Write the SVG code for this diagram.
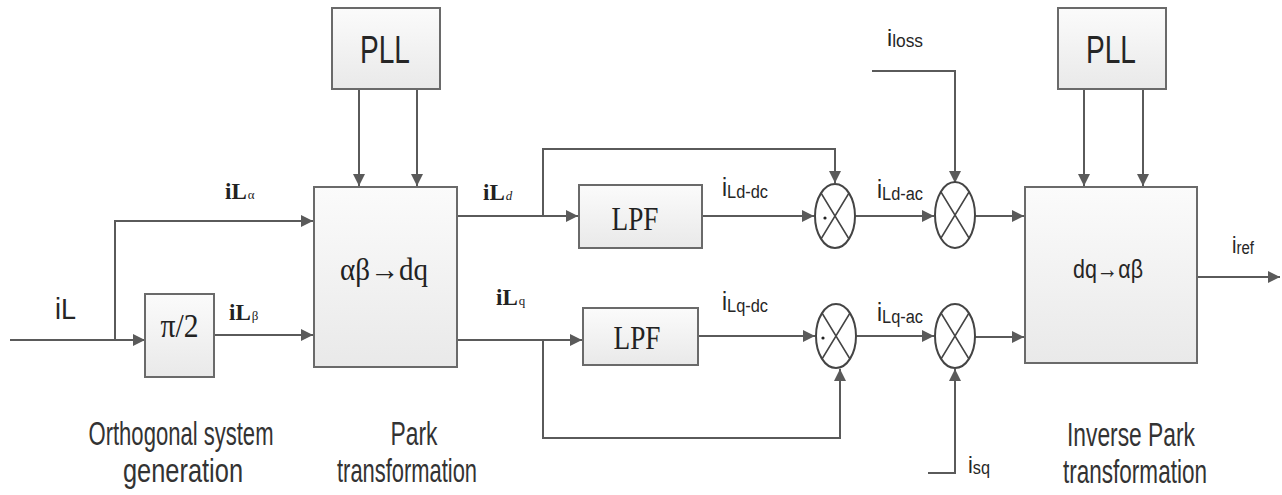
<svg xmlns="http://www.w3.org/2000/svg" width="1282" height="495" viewBox="0 0 1282 495">
<style>
.box{fill:url(#g);stroke:#6a6a6a;stroke-width:2}
.ln{fill:none;stroke:#5a5a5a;stroke-width:2}
.arr{marker-end:url(#ah)}
.mul{fill:#fff;stroke:#444;stroke-width:2}
.x{stroke:#444;stroke-width:1.5}
.sans{font-family:"Liberation Sans",Arial,sans-serif;fill:#262626}
.serif{font-family:"Liberation Serif","Times New Roman",serif;fill:#222}
.cap{font-family:"Liberation Sans",Arial,sans-serif;fill:#333;font-size:34px;text-anchor:middle}
</style>
<defs>
<linearGradient id="g" x1="0" y1="0" x2="0" y2="1">
<stop offset="0" stop-color="#fbfbfb"/>
<stop offset="1" stop-color="#e9e9e9"/>
</linearGradient>
<marker id="ah" markerUnits="userSpaceOnUse" markerWidth="14" markerHeight="12" refX="12" refY="6" orient="auto">
<path d="M0,0 L12,6 L0,12 Z" fill="#5a5a5a"/>
</marker>
</defs>
<rect width="1282" height="495" fill="#fff"/>

<g id="connectors">
<path class="ln arr" d="M10,340 H145"/>
<path class="ln arr" d="M115,340 V221 H313"/>
<path class="ln arr" d="M214,335 H313"/>
<path class="ln arr" d="M359,89 V186"/>
<path class="ln arr" d="M417,89 V186"/>
<path class="ln arr" d="M457,216 H578"/>
<path class="ln arr" d="M543,216 V149 H835 V183"/>
<path class="ln arr" d="M702,216 H814"/>
<path class="ln arr" d="M457,340 H582"/>
<path class="ln arr" d="M543,340 V438 H840 V369"/>
<path class="ln arr" d="M698,336 H815"/>
<path class="ln arr" d="M855,216 H934"/>
<path class="ln arr" d="M975,216 H1024"/>
<path class="ln arr" d="M872,71 H955 V183"/>
<path class="ln arr" d="M856,336 H934"/>
<path class="ln arr" d="M975,337 H1024"/>
<path class="ln arr" d="M928,473 H955 V369"/>
<path class="ln arr" d="M1084,89 V186"/>
<path class="ln arr" d="M1143,89 V186"/>
<path class="ln arr" d="M1197,277 H1280"/>
</g>

<g id="pi2">
<rect class="box" x="145" y="294" width="69" height="83"/>
<text class="serif" x="179.5" y="337" font-size="34" text-anchor="middle" textLength="38" lengthAdjust="spacingAndGlyphs">π/2</text>
</g>
<g id="pll1">
<rect class="box" x="332" y="8" width="108" height="81"/>
<text class="sans" x="385" y="63" font-size="38" text-anchor="middle" textLength="50" lengthAdjust="spacingAndGlyphs">PLL</text>
</g>
<g id="park">
<rect class="box" x="314" y="187" width="143" height="180"/>
<text class="serif" x="384" y="280" font-size="32" text-anchor="middle" textLength="88" lengthAdjust="spacingAndGlyphs">αβ→dq</text>
</g>
<g id="lpf1">
<rect class="box" x="579" y="185" width="123" height="63"/>
<text class="serif" x="635" y="230" font-size="33" text-anchor="middle" textLength="47" lengthAdjust="spacingAndGlyphs">LPF</text>
</g>
<g id="lpf2">
<rect class="box" x="583" y="308" width="115" height="57"/>
<text class="serif" x="637" y="349" font-size="33" text-anchor="middle" textLength="47" lengthAdjust="spacingAndGlyphs">LPF</text>
</g>
<g id="mul1">
<ellipse class="mul" cx="835" cy="216" rx="20" ry="32"/>
<path class="x" d="M821,193 L849,239 M849,193 L821,239"/>
<circle cx="825" cy="218" r="1.6" fill="#222"/>
</g>
<g id="mul2">
<ellipse class="mul" cx="836" cy="336" rx="20" ry="32"/>
<path class="x" d="M822,313 L850,359 M850,313 L822,359"/>
<circle cx="823" cy="338" r="1.6" fill="#222"/>
</g>
<g id="mul3">
<ellipse class="mul" cx="955" cy="215" rx="20" ry="33"/>
<path class="x" d="M941,192 L969,238 M969,192 L941,238"/>
</g>
<g id="mul4">
<ellipse class="mul" cx="955" cy="336" rx="20" ry="32"/>
<path class="x" d="M941,313 L969,359 M969,313 L941,359"/>
</g>
<g id="pll2">
<rect class="box" x="1058" y="8" width="108" height="81"/>
<text class="sans" x="1111" y="63" font-size="38" text-anchor="middle" textLength="50" lengthAdjust="spacingAndGlyphs">PLL</text>
</g>
<g id="invpark">
<rect class="box" x="1025" y="187" width="172" height="176"/>
<text class="sans" x="1108" y="278" font-size="26" text-anchor="middle" textLength="70" lengthAdjust="spacingAndGlyphs">dq→αβ</text>
</g>

<g id="labels">
<text class="sans" x="55" y="319" font-size="30" textLength="21" lengthAdjust="spacingAndGlyphs">iL</text>
<text class="serif" x="225" y="199" font-size="23" font-weight="bold">iL<tspan font-size="13" font-weight="normal" dx="1">α</tspan></text>
<text class="serif" x="229" y="320" font-size="23" font-weight="bold">iL<tspan font-size="13" font-weight="normal" dx="1">β</tspan></text>
<text class="serif" x="483" y="200" font-size="23" font-weight="bold">iL<tspan font-size="13" font-weight="normal" font-style="italic" dx="1">d</tspan></text>
<text class="serif" x="496" y="305" font-size="23" font-weight="bold">iL<tspan font-size="13" font-weight="normal" dx="1">q</tspan></text>
<text class="sans" x="722" y="196" font-size="25" textLength="46" lengthAdjust="spacingAndGlyphs">i<tspan font-size="18" dy="2">Ld-dc</tspan></text>
<text class="sans" x="722" y="310" font-size="25" textLength="46" lengthAdjust="spacingAndGlyphs">i<tspan font-size="18" dy="2">Lq-dc</tspan></text>
<text class="sans" x="877" y="198" font-size="25" textLength="46" lengthAdjust="spacingAndGlyphs">i<tspan font-size="18" dy="2">Ld-ac</tspan></text>
<text class="sans" x="877" y="321" font-size="25" textLength="46" lengthAdjust="spacingAndGlyphs">i<tspan font-size="18" dy="2">Lq-ac</tspan></text>
<text class="sans" x="887" y="46" font-size="24" textLength="36" lengthAdjust="spacingAndGlyphs">i<tspan font-size="18" dy="1">loss</tspan></text>
<text class="sans" x="968" y="473" font-size="24" textLength="22" lengthAdjust="spacingAndGlyphs">i<tspan font-size="18" dy="1">sq</tspan></text>
<text class="sans" x="1232" y="253" font-size="24" textLength="22" lengthAdjust="spacingAndGlyphs">i<tspan font-size="18" dy="1">ref</tspan></text>
</g>

<g id="captions">
<text class="cap" x="181" y="445" textLength="185" lengthAdjust="spacingAndGlyphs">Orthogonal system</text>
<text class="cap" x="183" y="482" textLength="120" lengthAdjust="spacingAndGlyphs">generation</text>
<text class="cap" x="414" y="445" textLength="47" lengthAdjust="spacingAndGlyphs">Park</text>
<text class="cap" x="407" y="482" textLength="140" lengthAdjust="spacingAndGlyphs">transformation</text>
<text class="cap" x="1131" y="446" textLength="128" lengthAdjust="spacingAndGlyphs">Inverse Park</text>
<text class="cap" x="1135" y="483" textLength="144" lengthAdjust="spacingAndGlyphs">transformation</text>
</g>
</svg>
